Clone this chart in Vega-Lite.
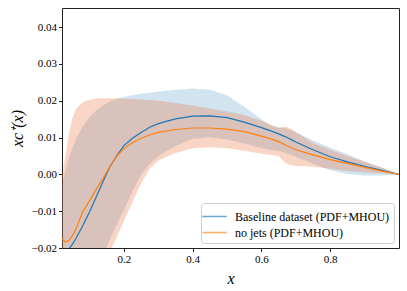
{
  "$schema": "https://vega.github.io/schema/vega-lite/v6.json",
  "width": 337,
  "height": 240,
  "autosize": {"type": "none"},
  "padding": {"left": 62, "top": 8, "right": 8, "bottom": 43},
  "config": {
    "view": {"stroke": "#222", "strokeWidth": 1},
    "axis": {
      "labelFont": "Liberation Serif", "labelFontSize": 11, "labelColor": "#000",
      "tickColor": "#222", "tickSize": 3.5, "grid": false, "domain": false,
      "titleFont": "Liberation Serif", "titleFontStyle": "italic", "titleFontWeight": "normal",
      "titleFontSize": 16, "titleColor": "#000"
    },
    "legend": {"labelFont": "Liberation Serif", "labelFontSize": 12, "labelColor": "#000", "labelLimit": 300}
  },
  "data": {"values": [
    {"s":"Baseline dataset (PDF+MHOU)","x":0.02,"y":-0.0245,"lo":-0.046,"hi":-0.003},
    {"s":"Baseline dataset (PDF+MHOU)","x":0.03,"y":-0.0218,"lo":-0.045,"hi":0.001},
    {"s":"Baseline dataset (PDF+MHOU)","x":0.04,"y":-0.0203,"lo":-0.044,"hi":0.0045},
    {"s":"Baseline dataset (PDF+MHOU)","x":0.05,"y":-0.019,"lo":-0.043,"hi":0.0072},
    {"s":"Baseline dataset (PDF+MHOU)","x":0.06,"y":-0.0175,"lo":-0.041,"hi":0.0095},
    {"s":"Baseline dataset (PDF+MHOU)","x":0.08,"y":-0.014,"lo":-0.037,"hi":0.013},
    {"s":"Baseline dataset (PDF+MHOU)","x":0.1,"y":-0.0102,"lo":-0.032,"hi":0.0155},
    {"s":"Baseline dataset (PDF+MHOU)","x":0.12,"y":-0.006,"lo":-0.027,"hi":0.0174},
    {"s":"Baseline dataset (PDF+MHOU)","x":0.14,"y":-0.0018,"lo":-0.0218,"hi":0.0188},
    {"s":"Baseline dataset (PDF+MHOU)","x":0.16,"y":0.0022,"lo":-0.0175,"hi":0.0198},
    {"s":"Baseline dataset (PDF+MHOU)","x":0.18,"y":0.0052,"lo":-0.0135,"hi":0.0205},
    {"s":"Baseline dataset (PDF+MHOU)","x":0.2,"y":0.0078,"lo":-0.0096,"hi":0.021},
    {"s":"Baseline dataset (PDF+MHOU)","x":0.225,"y":0.0098,"lo":-0.0046,"hi":0.0215},
    {"s":"Baseline dataset (PDF+MHOU)","x":0.25,"y":0.0114,"lo":0.0,"hi":0.0219},
    {"s":"Baseline dataset (PDF+MHOU)","x":0.275,"y":0.0128,"lo":0.0028,"hi":0.0222},
    {"s":"Baseline dataset (PDF+MHOU)","x":0.3,"y":0.0138,"lo":0.005,"hi":0.0225},
    {"s":"Baseline dataset (PDF+MHOU)","x":0.35,"y":0.0151,"lo":0.0077,"hi":0.023},
    {"s":"Baseline dataset (PDF+MHOU)","x":0.4,"y":0.0158,"lo":0.0097,"hi":0.0233},
    {"s":"Baseline dataset (PDF+MHOU)","x":0.45,"y":0.0159,"lo":0.0101,"hi":0.023},
    {"s":"Baseline dataset (PDF+MHOU)","x":0.5,"y":0.0154,"lo":0.0095,"hi":0.0215},
    {"s":"Baseline dataset (PDF+MHOU)","x":0.55,"y":0.0142,"lo":0.0084,"hi":0.0184},
    {"s":"Baseline dataset (PDF+MHOU)","x":0.6,"y":0.0127,"lo":0.0072,"hi":0.015},
    {"s":"Baseline dataset (PDF+MHOU)","x":0.625,"y":0.0119,"lo":0.0066,"hi":0.0133},
    {"s":"Baseline dataset (PDF+MHOU)","x":0.65,"y":0.011,"lo":0.0064,"hi":0.0128},
    {"s":"Baseline dataset (PDF+MHOU)","x":0.67,"y":0.0102,"lo":0.0058,"hi":0.0125},
    {"s":"Baseline dataset (PDF+MHOU)","x":0.69,"y":0.0093,"lo":0.0051,"hi":0.0118},
    {"s":"Baseline dataset (PDF+MHOU)","x":0.7,"y":0.0088,"lo":0.0048,"hi":0.0114},
    {"s":"Baseline dataset (PDF+MHOU)","x":0.75,"y":0.0067,"lo":0.0029,"hi":0.0092},
    {"s":"Baseline dataset (PDF+MHOU)","x":0.8,"y":0.0048,"lo":0.0011,"hi":0.0073},
    {"s":"Baseline dataset (PDF+MHOU)","x":0.85,"y":0.0034,"lo":0.0001,"hi":0.0055},
    {"s":"Baseline dataset (PDF+MHOU)","x":0.9,"y":0.0022,"lo":-0.0003,"hi":0.0035},
    {"s":"Baseline dataset (PDF+MHOU)","x":0.95,"y":0.0011,"lo":-0.0003,"hi":0.0019},
    {"s":"Baseline dataset (PDF+MHOU)","x":1.0,"y":0.0,"lo":0.0,"hi":0.0},
    {"s":"no jets (PDF+MHOU)","x":0.02,"y":-0.0174,"lo":-0.047,"hi":0.0},
    {"s":"no jets (PDF+MHOU)","x":0.03,"y":-0.0184,"lo":-0.046,"hi":0.005},
    {"s":"no jets (PDF+MHOU)","x":0.04,"y":-0.018,"lo":-0.045,"hi":0.011},
    {"s":"no jets (PDF+MHOU)","x":0.05,"y":-0.0167,"lo":-0.044,"hi":0.0152},
    {"s":"no jets (PDF+MHOU)","x":0.06,"y":-0.015,"lo":-0.042,"hi":0.0177},
    {"s":"no jets (PDF+MHOU)","x":0.08,"y":-0.0102,"lo":-0.038,"hi":0.0196},
    {"s":"no jets (PDF+MHOU)","x":0.1,"y":-0.0072,"lo":-0.034,"hi":0.0203},
    {"s":"no jets (PDF+MHOU)","x":0.12,"y":-0.004,"lo":-0.0295,"hi":0.0206},
    {"s":"no jets (PDF+MHOU)","x":0.14,"y":-0.001,"lo":-0.025,"hi":0.0207},
    {"s":"no jets (PDF+MHOU)","x":0.16,"y":0.0022,"lo":-0.0208,"hi":0.0207},
    {"s":"no jets (PDF+MHOU)","x":0.18,"y":0.005,"lo":-0.0168,"hi":0.0207},
    {"s":"no jets (PDF+MHOU)","x":0.2,"y":0.007,"lo":-0.0127,"hi":0.0206},
    {"s":"no jets (PDF+MHOU)","x":0.225,"y":0.0086,"lo":-0.0075,"hi":0.0205},
    {"s":"no jets (PDF+MHOU)","x":0.25,"y":0.0098,"lo":-0.0025,"hi":0.0203},
    {"s":"no jets (PDF+MHOU)","x":0.275,"y":0.0107,"lo":0.0015,"hi":0.0202},
    {"s":"no jets (PDF+MHOU)","x":0.3,"y":0.0114,"lo":0.0038,"hi":0.02},
    {"s":"no jets (PDF+MHOU)","x":0.35,"y":0.0122,"lo":0.0058,"hi":0.0194},
    {"s":"no jets (PDF+MHOU)","x":0.4,"y":0.0126,"lo":0.0071,"hi":0.0187},
    {"s":"no jets (PDF+MHOU)","x":0.45,"y":0.0126,"lo":0.0074,"hi":0.0179},
    {"s":"no jets (PDF+MHOU)","x":0.5,"y":0.0123,"lo":0.0071,"hi":0.0171},
    {"s":"no jets (PDF+MHOU)","x":0.55,"y":0.0116,"lo":0.0064,"hi":0.0161},
    {"s":"no jets (PDF+MHOU)","x":0.6,"y":0.0104,"lo":0.0056,"hi":0.0146},
    {"s":"no jets (PDF+MHOU)","x":0.625,"y":0.0097,"lo":0.0053,"hi":0.0136},
    {"s":"no jets (PDF+MHOU)","x":0.65,"y":0.0089,"lo":0.005,"hi":0.0126},
    {"s":"no jets (PDF+MHOU)","x":0.67,"y":0.008,"lo":0.003,"hi":0.013},
    {"s":"no jets (PDF+MHOU)","x":0.69,"y":0.0071,"lo":0.0024,"hi":0.0122},
    {"s":"no jets (PDF+MHOU)","x":0.7,"y":0.0067,"lo":0.0023,"hi":0.0116},
    {"s":"no jets (PDF+MHOU)","x":0.75,"y":0.0053,"lo":0.0021,"hi":0.0085},
    {"s":"no jets (PDF+MHOU)","x":0.8,"y":0.004,"lo":0.0015,"hi":0.0066},
    {"s":"no jets (PDF+MHOU)","x":0.85,"y":0.003,"lo":0.0009,"hi":0.005},
    {"s":"no jets (PDF+MHOU)","x":0.9,"y":0.0019,"lo":0.0005,"hi":0.0034},
    {"s":"no jets (PDF+MHOU)","x":0.95,"y":0.0009,"lo":0.0003,"hi":0.0019},
    {"s":"no jets (PDF+MHOU)","x":1.0,"y":0.0,"lo":0.0,"hi":0.0}
  ]},
  "encoding": {
    "x": {"field": "x", "type": "quantitative",
      "scale": {"domain": [0.02, 1.0], "nice": false, "zero": false},
      "axis": {"values": [0.2, 0.4, 0.6, 0.8], "format": ".1f", "title": "x", "titlePadding": 6}},
    "y": {"field": "y", "type": "quantitative",
      "scale": {"domain": [-0.02, 0.0452], "nice": false, "zero": false},
      "axis": {"values": [-0.02, -0.01, 0, 0.01, 0.02, 0.03, 0.04], "format": ".2f", "title": "xc⁺(x)", "titlePadding": 6}}
  },
  "layer": [
    {
      "transform": [{"filter": "datum.s === 'Baseline dataset (PDF+MHOU)'"}],
      "mark": {"type": "area", "clip": true, "color": "#1f77b4", "fillOpacity": 0.2},
      "encoding": {
        "y": {"field": "lo", "type": "quantitative"},
        "y2": {"field": "hi"}
      }
    },
    {
      "transform": [{"filter": "datum.s === 'no jets (PDF+MHOU)'"}],
      "mark": {"type": "area", "clip": true, "color": "#eb7341", "fillOpacity": 0.3},
      "encoding": {
        "y": {"field": "lo", "type": "quantitative"},
        "y2": {"field": "hi"}
      }
    },
    {
      "mark": {"type": "rule", "color": "#999", "strokeWidth": 0.9, "opacity": 0.8},
      "encoding": {"y": {"datum": 0}}
    },
    {
      "mark": {"type": "line", "clip": true, "strokeWidth": 1.2},
      "encoding": {
        "stroke": {"field": "s", "type": "nominal",
          "scale": {"domain": ["Baseline dataset (PDF+MHOU)", "no jets (PDF+MHOU)"], "range": ["#1f77b4", "#ff7f0e"]},
          "legend": {
            "title": null, "orient": "bottom-right", "offset": 5,
            "fillColor": "rgba(255,255,255,0.85)", "strokeColor": "#ccc", "cornerRadius": 3,
            "padding": 4, "symbolType": "M-1.4,0H1.4", "symbolSize": 300, "symbolStrokeWidth": 1.5,
            "symbolOpacity": 0.65, "labelFont": "Liberation Serif", "labelFontSize": 12,
            "labelColor": "#000", "rowPadding": 0, "labelOffset": 11
          }}
      }
    }
  ]
}
